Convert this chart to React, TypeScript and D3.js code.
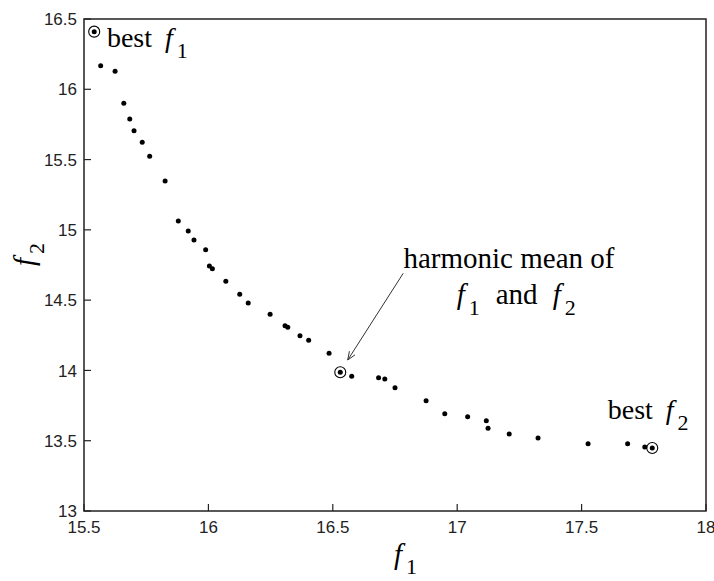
import React from 'react';
import * as d3 from 'd3';

// Pareto front samples (f1, f2)
const f1Values = [
  15.541, 15.567, 15.625, 15.660, 15.684, 15.701, 15.734, 15.764, 15.826, 15.879,
  15.919, 15.942, 15.989, 16.004, 16.016, 16.070, 16.126, 16.160, 16.248, 16.308,
  16.319, 16.368, 16.403, 16.485, 16.530, 16.576, 16.684, 16.709, 16.750, 16.875,
  16.950, 17.042, 17.117, 17.124, 17.209, 17.325, 17.526, 17.685, 17.754, 17.784,
];
const f2Values = [
  16.410, 16.168, 16.128, 15.900, 15.789, 15.705, 15.623, 15.523, 15.348, 15.063,
  14.992, 14.928, 14.859, 14.743, 14.724, 14.634, 14.542, 14.479, 14.399, 14.318,
  14.307, 14.247, 14.215, 14.122, 13.987, 13.958, 13.948, 13.939, 13.877, 13.785,
  13.692, 13.671, 13.642, 13.588, 13.548, 13.519, 13.479, 13.479, 13.455, 13.448,
];
// indices of circled solutions: best f1, harmonic mean, best f2
const highlighted = [0, 24, 39];

const xTicks = [15.5, 16, 16.5, 17, 17.5, 18];
const yTicks = [13, 13.5, 14, 14.5, 15, 15.5, 16, 16.5];
const xTickLabels = ['15.5', '16', '16.5', '17', '17.5', '18'];
const yTickLabels = ['13', '13.5', '14', '14.5', '15', '15.5', '16', '16.5'];

// annotation anchors in data units
const bestF1Label = { x: 15.592, y: 16.299 };
const bestF2Label = { x: 17.605, y: 13.654 };
const hmLine1 = { x: 16.784, y: 14.727 };
const hmLine2 = { x: 16.998, y: 14.473 };
const arrowFrom = { x: 16.783, y: 14.691 };
const arrowTo = { x: 16.560, y: 14.074 };

const serif = '"Liberation Serif", "Times New Roman", serif';
const sans = '"Liberation Sans", Arial, sans-serif';

const width = 714, height = 581;
const margin = { top: 19, right: 8, bottom: 70, left: 84 };

export default function App() {
  const x = d3.scaleLinear().domain([15.5, 18]).range([margin.left, width - margin.right]);
  const y = d3.scaleLinear().domain([13, 16.5]).range([height - margin.bottom, margin.top]);
  const x0 = x(15.5), x1 = x(18), y0 = y(13), y1 = y(16.5);
  const tickLen = 7;

  const pts = f1Values.map((v, i) => ({ f1: v, f2: f2Values[i] }));

  const ax0 = x(arrowFrom.x), ay0 = y(arrowFrom.y), ax1 = x(arrowTo.x), ay1 = y(arrowTo.y);
  const ang = Math.atan2(ay1 - ay0, ax1 - ax0);
  const head = 9, spread = 0.38;
  const shaft = d3.line()([[ax0, ay0], [ax1, ay1]]) || '';
  const tip = d3.line()([
    [ax1 - head * Math.cos(ang - spread), ay1 - head * Math.sin(ang - spread)],
    [ax1, ay1],
    [ax1 - head * Math.cos(ang + spread), ay1 - head * Math.sin(ang + spread)],
  ]) || '';

  const subShift = 11;

  return (
    <svg width={width} height={height}
      style={{ position: 'absolute', left: 0, top: 0, background: '#fff' }}>
      <rect x={x0} y={y1} width={x1 - x0} height={y0 - y1}
        fill="none" stroke="#222" strokeWidth={1.5} />

      {xTicks.map((d, i) => (
        <g key={'xt' + i}>
          <line x1={x(d)} x2={x(d)} y1={y0} y2={y0 - tickLen} stroke="#222" strokeWidth={1.2} />
          <text x={x(d)} y={y0 + 22} textAnchor="middle" fontFamily={sans} fontSize={17} fill="#222">
            {xTickLabels[i]}
          </text>
        </g>
      ))}
      {yTicks.map((d, i) => (
        <g key={'yt' + i}>
          <line x1={x0} x2={x0 + tickLen} y1={y(d)} y2={y(d)} stroke="#222" strokeWidth={1.2} />
          <text x={x0 - 7} y={y(d)} dy="0.36em" textAnchor="end" fontFamily={sans} fontSize={17} fill="#222">
            {yTickLabels[i]}
          </text>
        </g>
      ))}

      {pts.map((d, i) => (
        <circle key={'p' + i} cx={x(d.f1)} cy={y(d.f2)} r={2.5} fill="#000" />
      ))}
      {highlighted.map(i => (
        <circle key={'h' + i} cx={x(pts[i].f1)} cy={y(pts[i].f2)} r={5.5}
          fill="none" stroke="#000" strokeWidth={1.1} />
      ))}

      <text x={x(bestF1Label.x)} y={y(bestF1Label.y)} fontFamily={serif} fontSize={28} fill="#000">
        <tspan>best</tspan>
        <tspan dx={13} fontStyle="italic">f</tspan>
        <tspan dx={4} dy={subShift} fontSize={22}>1</tspan>
      </text>
      <text x={x(bestF2Label.x)} y={y(bestF2Label.y)} fontFamily={serif} fontSize={28} fill="#000">
        <tspan>best</tspan>
        <tspan dx={13} fontStyle="italic">f</tspan>
        <tspan dx={4} dy={subShift} fontSize={22}>2</tspan>
      </text>

      <text x={x(hmLine1.x)} y={y(hmLine1.y)} fontFamily={serif} fontSize={29} fill="#000">
        harmonic mean of
      </text>
      <text x={x(hmLine2.x)} y={y(hmLine2.y)} fontFamily={serif} fontSize={29} fill="#000">
        <tspan fontStyle="italic">f</tspan>
        <tspan dx={4} dy={subShift} fontSize={22}>1</tspan>
        <tspan dx={16} dy={-subShift}>and</tspan>
        <tspan dx={15} fontStyle="italic">f</tspan>
        <tspan dx={4} dy={subShift} fontSize={22}>2</tspan>
      </text>

      <path d={shaft} stroke="#333" strokeWidth={1} fill="none" />
      <path d={tip} stroke="#333" strokeWidth={1} fill="none" />

      <text x={394} y={564} fontFamily={serif} fontSize={29} fill="#000">
        <tspan fontStyle="italic">f</tspan>
        <tspan dx={4} dy={10} fontSize={22}>1</tspan>
      </text>
      <text transform="translate(34,266) rotate(-90)" fontFamily={serif} fontSize={29} fill="#000">
        <tspan fontStyle="italic">f</tspan>
        <tspan dx={4} dy={10} fontSize={22}>2</tspan>
      </text>
    </svg>
  );
}
